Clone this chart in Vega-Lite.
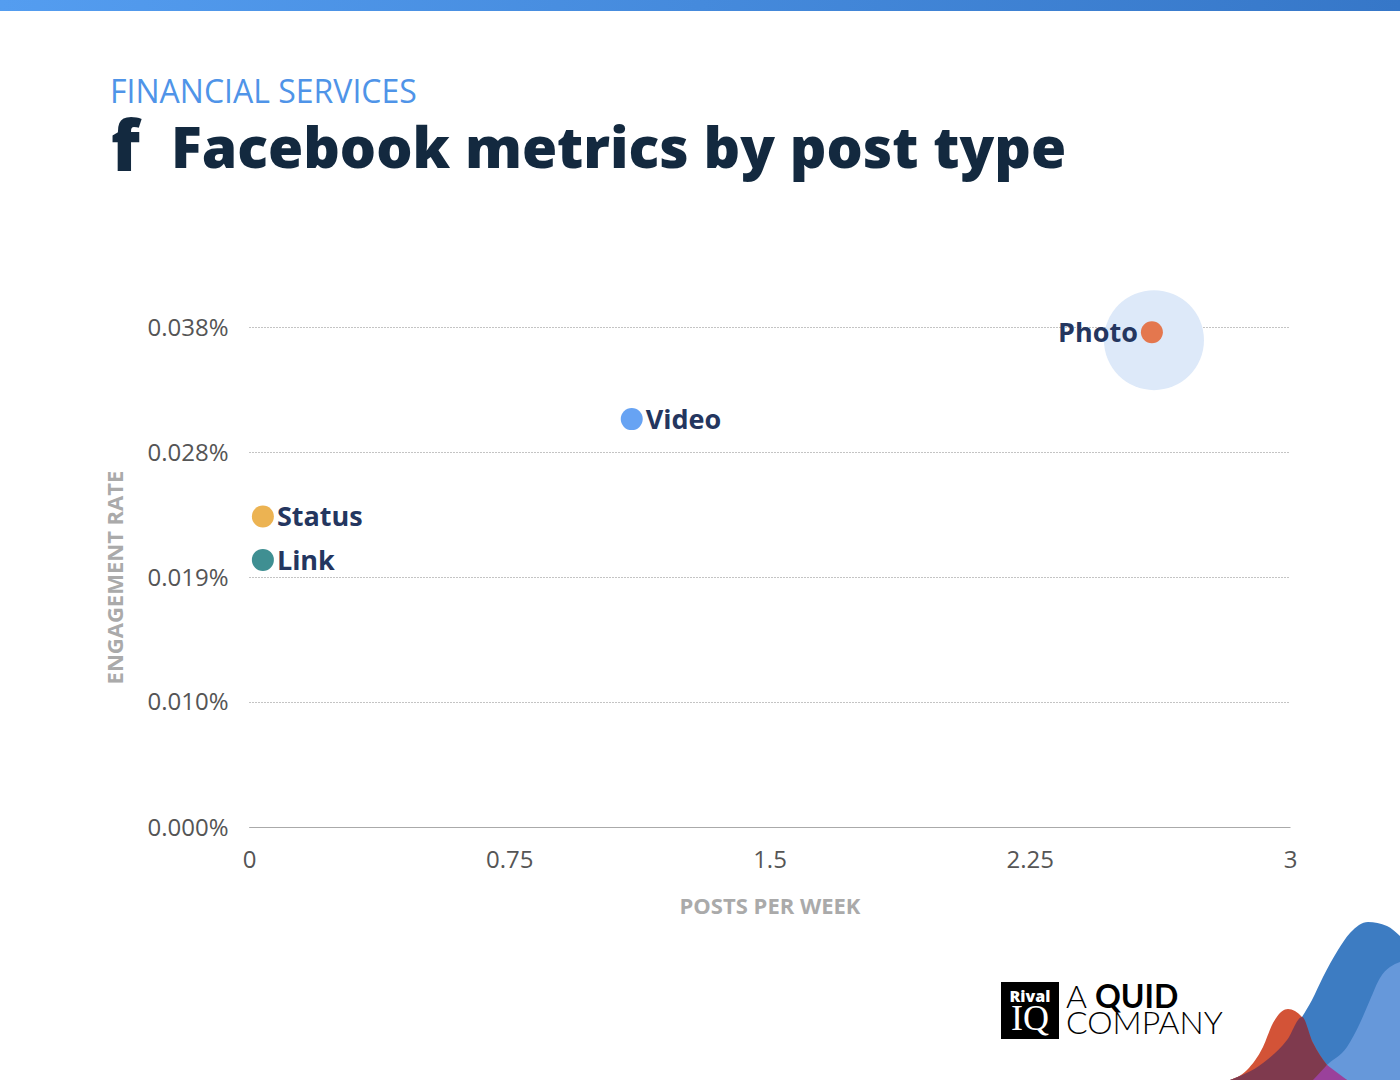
{"$schema":"https://vega.github.io/schema/vega-lite/v6.json","width":1041,"height":500,"autosize":"none","padding":{"left":249,"top":327,"right":110,"bottom":253},"background":"white","config":{"view":{"stroke":null},"font":"Open Sans"},
"title":{"text":"FINANCIAL SERVICES","anchor":"start","frame":"group","dx":-139,"offset":-110,"font":"Open Sans","fontSize":32,"fontWeight":400,"color":"#4f94e8"},
"datasets":{"posts":[{"type":"Photo","posts":2.602,"rate":0.000376},{"type":"Video","posts":1.103,"rate":0.00031},{"type":"Status","posts":0.04,"rate":0.000236},{"type":"Link","posts":0.04,"rate":0.000203}],
"highlight":[{"type":"Photo","posts":2.608,"rate":0.00037}],
"band":[{"x":0,"y":0,"y2":11},{"x":1400,"y":0,"y2":11}],
"blue":[{"x":1230,"y":1080,"y2":1080},{"x":1263,"y":1063,"y2":1080},{"x":1287,"y":1040,"y2":1080},{"x":1302,"y":1017,"y2":1080},{"x":1312,"y":1000,"y2":1080},{"x":1323,"y":977,"y2":1080},{"x":1338,"y":950,"y2":1080},{"x":1350,"y":933,"y2":1080},{"x":1368,"y":922,"y2":1080},{"x":1387,"y":926,"y2":1080},{"x":1400,"y":936,"y2":1080}],
"light":[{"x":1313,"y":1080,"y2":1080},{"x":1327,"y":1065,"y2":1080},{"x":1347,"y":1047,"y2":1080},{"x":1360,"y":1023,"y2":1080},{"x":1370,"y":1000,"y2":1080},{"x":1380,"y":978,"y2":1080},{"x":1400,"y":962,"y2":1080}],
"red":[{"x":1230,"y":1080,"y2":1080},{"x":1247,"y":1070,"y2":1080},{"x":1263,"y":1047,"y2":1080},{"x":1273,"y":1023,"y2":1080},{"x":1288,"y":1009,"y2":1080},{"x":1302,"y":1017,"y2":1080},{"x":1313,"y":1043,"y2":1080},{"x":1327,"y":1065,"y2":1080},{"x":1347,"y":1080,"y2":1080}],
"overlap":[{"x":1230,"y":1080,"y2":1080},{"x":1263,"y":1063,"y2":1080},{"x":1287,"y":1040,"y2":1080},{"x":1302,"y":1017,"y2":1080},{"x":1313,"y":1043,"y2":1080},{"x":1327,"y":1065,"y2":1065}],
"purple":[{"x":1313,"y":1080,"y2":1080},{"x":1327,"y":1065,"y2":1080},{"x":1347,"y":1080,"y2":1080}],
"logoBox":[{"x":1001,"x2":1059,"y":982,"y2":1039}],
"logoText":[{"t":"Rival","x":1030,"y":997,"k":"rival"},{"t":"IQ","x":1030,"y":1019,"k":"iq"}],
"company":[{"t":"A","x":1066,"y":998,"k":"light"},{"t":"COMPANY","x":1066,"y":1024,"k":"light"},{"t":"QUID","x":1095,"y":998,"k":"bold"}],
"glyph":[{"t":"f","x":111,"y":150,"k":"icon"},{"t":"Facebook metrics by post type","x":171,"y":151,"k":"heading"}]},
"resolve":{"scale":{"x":"independent","y":"independent"}},
"layer":[
{"layer":[
{"data":{"name":"highlight"},"mark":{"type":"circle","size":10000,"opacity":1,"color":"#dde9f9"},"encoding":{"x":{"field":"posts","type":"quantitative","scale":{"domain":[0,3],"nice":false},"axis":{"values":[0,0.75,1.5,2.25,3],"labelExpr":"datum.value","title":"POSTS PER WEEK","grid":false,"ticks":false,"labelFont":"Open Sans","labelFontSize":24,"labelColor":"#555555","labelPadding":21,"titleFont":"Open Sans","titleFontSize":22,"titleFontWeight":700,"titleColor":"#aaaaaa","titlePadding":24,"domainColor":"#aaaaaa","domainWidth":1,"labelFlush":false}},"y":{"field":"rate","type":"quantitative","scale":{"domain":[0,0.00038],"nice":false},"axis":{"values":[0,0.0000951,0.00019,0.000285,0.00038],"format":".3%","title":"ENGAGEMENT RATE","grid":true,"gridColor":"#888888","gridDash":[1,2],"gridWidth":1,"domain":false,"ticks":false,"labelFont":"Open Sans","labelFontSize":24,"labelColor":"#555555","labelPadding":21,"labelOffset":1,"titleFont":"Open Sans","titleFontSize":22,"titleFontWeight":700,"titleColor":"#aaaaaa","titlePadding":19}}}},
{"data":{"name":"posts"},"mark":{"type":"circle","size":484,"opacity":1},"encoding":{"x":{"field":"posts","type":"quantitative"},"y":{"field":"rate","type":"quantitative"},"color":{"field":"type","type":"nominal","legend":null,"scale":{"domain":["Photo","Video","Status","Link"],"range":["#e4774e","#67a3f3","#ecb352","#3f8f92"]}}}},
{"data":{"name":"posts"},"transform":[{"filter":"datum.type !== 'Photo'"}],"mark":{"type":"text","align":"left","baseline":"middle","dx":14,"dy":2,"font":"Open Sans","fontSize":27,"fontWeight":700,"color":"#24365f"},"encoding":{"x":{"field":"posts","type":"quantitative"},"y":{"field":"rate","type":"quantitative"},"text":{"field":"type"}}},
{"data":{"name":"posts"},"transform":[{"filter":"datum.type === 'Photo'"}],"mark":{"type":"text","align":"right","baseline":"middle","dx":-14,"dy":2,"font":"Open Sans","fontSize":27,"fontWeight":700,"color":"#24365f"},"encoding":{"x":{"field":"posts","type":"quantitative"},"y":{"field":"rate","type":"quantitative"},"text":{"field":"type"}}}
]},
{"layer":[
{"data":{"name":"band"},"mark":{"type":"area","clip":false,"color":{"gradient":"linear","x1":0,"x2":1,"y1":0,"y2":0,"stops":[{"offset":0,"color":"#549df0"},{"offset":1,"color":"#3677c8"}]}},"encoding":{"x":{"field":"x","type":"quantitative","scale":{"domain":[0,1400],"range":[-249,1151],"nice":false},"axis":null},"y":{"field":"y","type":"quantitative","scale":{"domain":[0,1080],"range":[-327,753],"nice":false},"axis":null},"y2":{"field":"y2"}}},
{"data":{"name":"blue"},"mark":{"type":"area","interpolate":"monotone","color":"#3d7cc2"},"encoding":{"x":{"field":"x","type":"quantitative"},"y":{"field":"y","type":"quantitative"},"y2":{"field":"y2"}}},
{"data":{"name":"light"},"mark":{"type":"area","interpolate":"monotone","color":"#6698da"},"encoding":{"x":{"field":"x","type":"quantitative"},"y":{"field":"y","type":"quantitative"},"y2":{"field":"y2"}}},
{"data":{"name":"red"},"mark":{"type":"area","interpolate":"monotone","color":"#d35337"},"encoding":{"x":{"field":"x","type":"quantitative"},"y":{"field":"y","type":"quantitative"},"y2":{"field":"y2"}}},
{"data":{"name":"overlap"},"mark":{"type":"area","interpolate":"monotone","color":"#7f3a4e"},"encoding":{"x":{"field":"x","type":"quantitative"},"y":{"field":"y","type":"quantitative"},"y2":{"field":"y2"}}},
{"data":{"name":"purple"},"mark":{"type":"area","interpolate":"linear","color":"#9a419b"},"encoding":{"x":{"field":"x","type":"quantitative"},"y":{"field":"y","type":"quantitative"},"y2":{"field":"y2"}}},
{"data":{"name":"logoBox"},"mark":{"type":"rect","color":"#000000"},"encoding":{"x":{"field":"x","type":"quantitative"},"x2":{"field":"x2"},"y":{"field":"y","type":"quantitative"},"y2":{"field":"y2"}}},
{"data":{"name":"logoText"},"transform":[{"filter":"datum.k === 'rival'"}],"mark":{"type":"text","align":"center","baseline":"middle","font":"Open Sans","fontSize":16,"fontWeight":800,"color":"#ffffff"},"encoding":{"x":{"field":"x","type":"quantitative"},"y":{"field":"y","type":"quantitative"},"text":{"field":"t"}}},
{"data":{"name":"logoText"},"transform":[{"filter":"datum.k === 'iq'"}],"mark":{"type":"text","align":"center","baseline":"middle","font":"Liberation Serif","fontSize":36,"fontWeight":400,"color":"#ffffff"},"encoding":{"x":{"field":"x","type":"quantitative"},"y":{"field":"y","type":"quantitative"},"text":{"field":"t"}}},
{"data":{"name":"company"},"transform":[{"filter":"datum.k === 'light'"}],"mark":{"type":"text","align":"left","baseline":"middle","font":"Lato","fontSize":32,"fontWeight":300,"color":"#000000"},"encoding":{"x":{"field":"x","type":"quantitative"},"y":{"field":"y","type":"quantitative"},"text":{"field":"t"}}},
{"data":{"name":"company"},"transform":[{"filter":"datum.k === 'bold'"}],"mark":{"type":"text","align":"left","baseline":"middle","font":"Lato","fontSize":32,"fontWeight":700,"color":"#000000"},"encoding":{"x":{"field":"x","type":"quantitative"},"y":{"field":"y","type":"quantitative"},"text":{"field":"t"}}},
{"data":{"name":"glyph"},"transform":[{"filter":"datum.k === 'icon'"}],"mark":{"type":"text","align":"left","baseline":"middle","font":"Open Sans","fontSize":70,"fontWeight":800,"color":"#13293f"},"encoding":{"x":{"field":"x","type":"quantitative"},"y":{"field":"y","type":"quantitative"},"text":{"field":"t"}}},
{"data":{"name":"glyph"},"transform":[{"filter":"datum.k === 'heading'"}],"mark":{"type":"text","align":"left","baseline":"middle","font":"Open Sans","fontSize":57,"fontWeight":800,"color":"#13293f"},"encoding":{"x":{"field":"x","type":"quantitative"},"y":{"field":"y","type":"quantitative"},"text":{"field":"t"}}}
]}
]}
